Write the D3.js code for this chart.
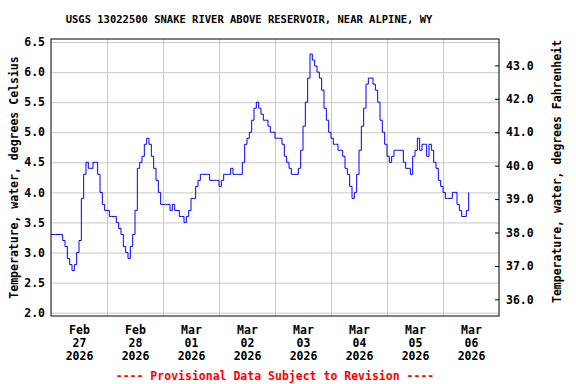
<!DOCTYPE html>
<html>
<head>
<meta charset="utf-8">
<script src="https://cdn.jsdelivr.net/npm/d3@7"></script>
<style>
  html, body { margin: 0; padding: 0; background: #fff; }
  svg text { font-family: "DejaVu Sans Mono", "Liberation Mono", monospace; font-weight: bold; }
</style>
</head>
<body>
<svg id="chart" width="576" height="384"></svg>
<script>
// hourly water temperature (deg C), starting 2026-02-27 00:00
const START = new Date(2026, 1, 27, 0, 0);
const END = new Date(2026, 2, 7, 0, 0);
const tempC = [
  3.3,3.3,3.3,3.3,3.3,3.2,3.1,2.9,2.8,2.7,2.8,3.0,3.2,3.9,4.3,4.5,4.4,4.4,4.5,4.5,4.3,4.0,3.8,3.7,
  3.7,3.6,3.6,3.6,3.5,3.4,3.3,3.1,3.0,2.9,3.1,3.3,3.7,4.4,4.5,4.6,4.8,4.9,4.8,4.6,4.4,4.2,4.0,3.8,
  3.8,3.8,3.8,3.7,3.8,3.7,3.7,3.6,3.6,3.5,3.6,3.7,3.9,3.9,4.1,4.2,4.3,4.3,4.3,4.3,4.2,4.2,4.2,4.2,
  4.1,4.2,4.3,4.3,4.3,4.4,4.3,4.3,4.3,4.3,4.5,4.8,4.9,5.0,5.2,5.4,5.5,5.4,5.3,5.2,5.2,5.1,5.0,5.0,
  4.9,4.9,4.9,4.8,4.6,4.5,4.4,4.3,4.3,4.3,4.4,4.7,5.1,5.5,5.9,6.3,6.2,6.1,6.0,5.9,5.7,5.4,5.2,5.0,
  4.9,4.8,4.8,4.7,4.7,4.6,4.4,4.3,4.1,3.9,4.0,4.3,4.7,5.1,5.4,5.8,5.9,5.9,5.8,5.7,5.5,5.2,5.0,4.8,
  4.6,4.5,4.6,4.7,4.7,4.7,4.7,4.5,4.4,4.4,4.3,4.6,4.7,4.9,4.7,4.8,4.8,4.6,4.8,4.7,4.5,4.4,4.2,4.1,
  4.0,3.9,3.9,3.9,4.0,4.0,3.8,3.7,3.6,3.6,3.7,4.0
];
const cTicks = [2.0, 2.5, 3.0, 3.5, 4.0, 4.5, 5.0, 5.5, 6.0, 6.5];
const fTicks = [36, 37, 38, 39, 40, 41, 42, 43];
const dayLabels = d3.timeDay.range(START, END).map(d => d3.timeHour.offset(d, 12));
const dayLines = d3.timeDay.range(d3.timeDay.offset(START, 1), END);

const TITLE = 'USGS 13022500 SNAKE RIVER ABOVE RESERVOIR, NEAR ALPINE, WY';
const LEFT_TITLE = 'Temperature, water, degrees Celsius';
const RIGHT_TITLE = 'Temperature, water, degrees Fahrenheit';
const FOOTER = '---- Provisional Data Subject to Revision ----';

const data = tempC.map((v, i) => ({ t: d3.timeHour.offset(START, i), v }));

const M = { top: 39, right: 77, bottom: 68, left: 51 };
const W = 576 - M.left - M.right, H = 384 - M.top - M.bottom;
const c2f = c => c * 9 / 5 + 32;

const x = d3.scaleTime().domain([START, END]).range([0, W]);
const y = d3.scaleLinear().domain([1.945, 6.55]).range([H, 0]);
const yF = d3.scaleLinear().domain(y.domain().map(c2f)).range([H, 0]);

const svg = d3.select('#chart');
const g = svg.append('g').attr('transform', `translate(${M.left},${M.top})`);

// grid
g.append('g').attr('class', 'grid')
  .call(d3.axisLeft(y).tickValues(cTicks).tickSize(-W).tickFormat(''))
  .call(s => s.select('.domain').remove())
  .selectAll('line').attr('stroke', '#c8c8c8');
g.append('g').attr('class', 'grid').attr('transform', `translate(0,${H})`)
  .call(d3.axisBottom(x).tickValues(dayLines).tickSize(-H).tickFormat(''))
  .call(s => s.select('.domain').remove())
  .selectAll('line').attr('stroke', '#c8c8c8');

// data line
g.append('path').datum(data)
  .attr('fill', 'none').attr('stroke', '#0000ff').attr('stroke-width', 1)
  .attr('d', d3.line().x(d => x(d.t)).y(d => y(d.v)).curve(d3.curveStepAfter));

// frame
g.append('rect').attr('width', W).attr('height', H)
  .attr('fill', 'none').attr('stroke', '#000').attr('stroke-width', 1);

// left axis labels
const la = g.append('g')
  .call(d3.axisLeft(y).tickValues(cTicks).tickSize(0).tickPadding(6).tickFormat(d3.format('.1f')));
la.select('.domain').remove();
la.selectAll('text').attr('font-size', 11.5).attr('fill', '#000');

// right axis (F), ticks pointing inward
const ra = g.append('g').attr('transform', `translate(${W},0)`)
  .call(d3.axisRight(yF).tickValues(fTicks).tickSize(0).tickPadding(7).tickFormat(d3.format('.1f')));
ra.select('.domain').remove();
ra.selectAll('.tick line').attr('x1', -4).attr('x2', 0).attr('stroke', '#000');
ra.selectAll('text').attr('font-size', 11.5).attr('fill', '#000');

// bottom axis labels (three lines)
const ba = g.append('g').attr('transform', `translate(0,${H})`)
  .call(d3.axisBottom(x).tickValues(dayLabels).tickSize(0).tickFormat(''));
ba.select('.domain').remove();
ba.selectAll('.tick').each(function (d) {
  const t = d3.select(this).append('text')
    .attr('fill', '#000').attr('font-size', 11.5).attr('text-anchor', 'middle');
  [d3.timeFormat('%b')(d), d3.timeFormat('%d')(d), d3.timeFormat('%Y')(d)].forEach((s, i) => {
    t.append('tspan').attr('x', 0).attr('y', 18 + i * 13).text(s);
  });
});

// titles
svg.append('text').attr('x', 249).attr('y', 23).attr('text-anchor', 'middle')
  .attr('font-size', 10.5).text(TITLE);
svg.append('text').attr('transform', `translate(18,${M.top + H / 2}) rotate(-90)`)
  .attr('text-anchor', 'middle').attr('font-size', 11.5).text(LEFT_TITLE);
svg.append('text').attr('transform', `translate(561,${M.top + H / 2 - 6}) rotate(-90)`)
  .attr('text-anchor', 'middle').attr('font-size', 11.5).text(RIGHT_TITLE);
svg.append('text').attr('x', 275).attr('y', 380).attr('text-anchor', 'middle')
  .attr('font-size', 11.5).attr('fill', '#ff0000').text(FOOTER);
</script>
</body>
</html>
